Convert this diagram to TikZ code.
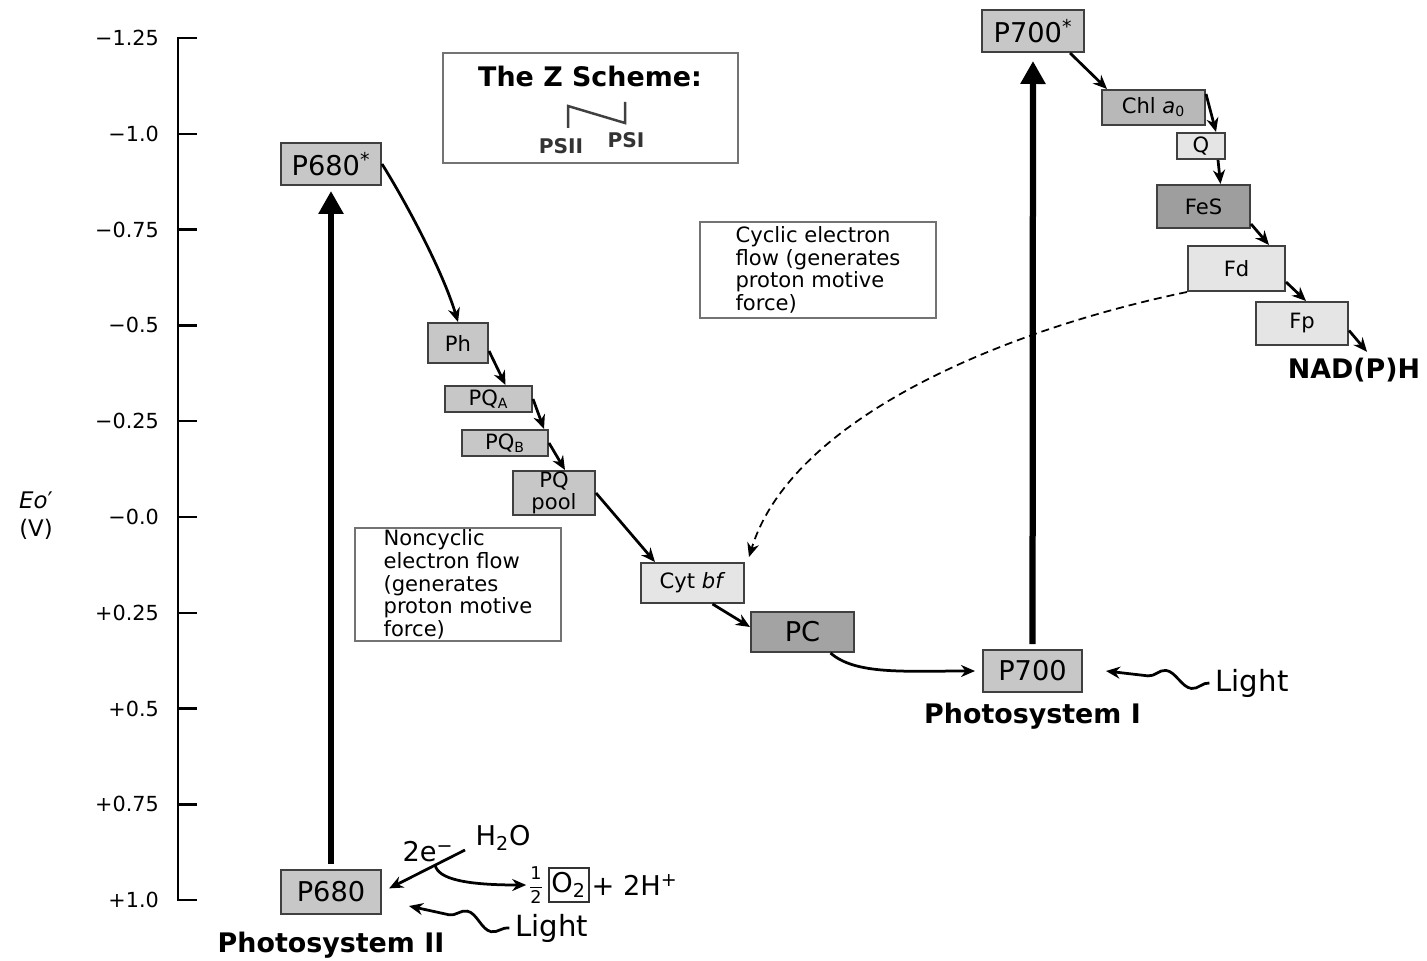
\documentclass[tikz,border=0pt]{standalone}
\usepackage{amsmath}
\usepackage{fontspec}
\setmainfont{DejaVu Sans}
\usetikzlibrary{arrows.meta, positioning, calc, decorations.pathmorphing}

\newcommand{\szaxis}{\fontsize{11.8}{13}\selectfont}
\newcommand{\szbig}{\fontsize{15.5}{18}\selectfont}
\newcommand{\szsmall}{\fontsize{12}{13.6}\selectfont}
\newcommand{\sznote}{\fontsize{12}{12.9}\selectfont}
\newcommand{\szlabel}{\fontsize{15.3}{18}\selectfont}
\newcommand{\szlight}{\fontsize{16.6}{19}\selectfont}

\begin{document}
\begin{tikzpicture}[
        x=0.2mm, y=-0.2mm,
        carrier/.style={draw=black!75, line width=0.4mm, fill=black!22,
            inner sep=0pt, align=center, font=\szsmall},
        bigcarrier/.style={carrier, font=\szbig},
        note/.style={draw=black!55, line width=0.45mm, inner sep=0pt,
            align=left, font=\sznote},
        line/.style={draw, line width=0.55mm,
            -{Stealth[length=2.8mm, width=2.4mm]}},
        excite/.style={draw, line width=1.25mm,
            -{Triangle[length=4.6mm, width=4.8mm]}},
        wave/.style={line, decorate, decoration={snake, amplitude=1.5mm,
            segment length=11mm, post length=4.5mm}},
        psname/.style={font=\szlabel\bfseries},
    ]

    \useasboundingbox (0,0) rectangle (1427,960);

    % 1. Redox potential axis
    \draw[line width=0.45mm] (197,38) -- (178,38) -- (178,900) -- (197,900);
    \foreach \val [count=\i from 0] in {−1.25,−1.0,−0.75,−0.5,−0.25,−0.0,+0.25,+0.5,+0.75,+1.0}
        {
        \draw[line width=0.45mm] (178,38+95.8*\i) -- ++(19,0);
        \node[anchor=east, font=\szaxis] at (165,38+95.8*\i) {\val};
        }
    \node[font=\fontsize{13}{16}\selectfont, align=center] (eo) at (36,516)
        {\textit{Eo}′\\(V)};

    % 2. Photosystem II chain
    \node[bigcarrier, minimum width=20mm, minimum height=8.8mm] (p680)
        at (331,892) {P680};
    \node[bigcarrier, minimum width=20mm, minimum height=8.4mm] (p680s)
        at (331,164) {P680\textsuperscript{*}};
    \node[carrier, minimum width=12mm, minimum height=8mm] (ph)
        at (458,343) {Ph};
    \node[carrier, minimum width=17.4mm, minimum height=5.2mm] (pqa)
        at (488.5,399) {PQ\textsubscript{A}};
    \node[carrier, minimum width=17.2mm, minimum height=5.2mm] (pqb)
        at (505,443) {PQ\textsubscript{B}};
    \node[carrier, minimum width=16.4mm, minimum height=8.8mm,
          font=\fontsize{12}{12.5}\selectfont] (pqpool)
        at (554,493) {PQ\\pool};
    \node[carrier, fill=black!10, minimum width=20.6mm, minimum height=8mm] (cytbf)
        at (692.5,583) {Cyt \textit{bf}};
    \node[bigcarrier, fill=black!36, minimum width=20.6mm, minimum height=8mm] (pc)
        at (802.5,632) {PC};
    \node[psname, below=2.2mm of p680] (psII) {Photosystem II};

    % 3. Photosystem I chain
    \node[bigcarrier, minimum width=19.8mm, minimum height=8.4mm] (p700)
        at (1032.5,671) {P700};
    \node[bigcarrier, minimum width=20.4mm, minimum height=8.4mm] (p700s)
        at (1033,31) {P700\textsuperscript{*}};
    \node[carrier, fill=black!28, minimum width=20.6mm, minimum height=7mm] (chla)
        at (1153.5,107.5) {Chl \textit{a}\textsubscript{0}};
    \node[carrier, fill=black!10, minimum width=9.6mm, minimum height=5.2mm] (q)
        at (1201,146) {Q};
    \node[carrier, fill=black!38, minimum width=18.6mm, minimum height=8.6mm] (fes)
        at (1203.5,206.5) {FeS};
    \node[carrier, fill=black!10, minimum width=19.4mm, minimum height=9mm] (fd)
        at (1236.5,268.5) {Fd};
    \node[carrier, fill=black!10, minimum width=18.4mm, minimum height=8.6mm] (fp)
        at (1302,323.5) {Fp};
    \node[psname] (nadph) at (1354,370) {NAD(P)H};
    \node[psname, below=0.8mm of p700] (psI) {Photosystem I};

    % 4. Notes
    \node[note, minimum width=59mm, minimum height=22mm] (zbox) at (590.5,108) {};
    \node[psname] (ztitle) at (590,76) {The Z Scheme:};
    \draw[line width=0.5mm, black!75] (568,128) -- (568,106) -- (625,123) -- (625,102);
    \node[font=\fontsize{11.5}{13}\selectfont\bfseries, text=black!80] (psii)
        at (561,146) {PSII};
    \node[font=\fontsize{11.5}{13}\selectfont\bfseries, text=black!80] (psi)
        at (626,140) {PSI};
    \node[note, minimum width=47.2mm, minimum height=19.2mm] (cyclic) at (818,270)
        {Cyclic electron\\flow (generates\\proton motive\\force)};
    \node[note, minimum width=41.2mm, minimum height=22.6mm] (noncyclic) at (458,584.5)
        {Noncyclic\\electron flow\\(generates\\proton motive\\force)};

    % 5. Water splitting and light
    \node[font=\szbig] (twoe) at (428,852) {2e\textsuperscript{−}};
    \node[font=\szbig] (water) at (503,838) {H\textsubscript{2}O};
    \coordinate (source) at (465,850);
    \node[font=\fontsize{10}{12}\selectfont, inner sep=1pt] (half) at (536,885)
        {$\dfrac{\text{1}}{\text{2}}$};
    \node[draw=black!80, line width=0.4mm, font=\szbig, inner sep=1.5pt,
          minimum height=6.8mm, right=0.4mm of half] (otwo) {O\textsubscript{2}};
    \node[font=\szbig, inner sep=1pt, right=0pt of otwo] (hplus) {+ 2H\textsuperscript{+}};
    \node[font=\szlight] (lightII) at (552,928) {Light};
    \node[font=\szlight] (lightI) at (1252,683) {Light};

    % --- Arrows ---
    \path[excite, shorten <=1mm, shorten >=1mm] (p680) -- (p680s);
    \path[excite, shorten <=1mm, shorten >=1.6mm] (p700) -- (p700s);
    \path[line] (p680s.east) .. controls +(25,40) and +(-15,-50) .. (ph.north);
    \path[line] ([yshift=-1.6mm]ph.east) -- ([xshift=3.4mm]pqa.north);
    \path[line] (pqa.east) -- ([xshift=-1mm]pqb.north east);
    \path[line] (pqb.east) -- ([xshift=2.2mm]pqpool.north);
    \path[line] (pqpool.east) -- ([xshift=3mm]cytbf.north west);
    \path[line] ([xshift=4mm]cytbf.south) -- ([yshift=1mm]pc.west);
    \path[line] ([xshift=5.6mm]pc.south) .. controls +(25,22) and +(-70,0)
        .. ([xshift=-1.4mm]p700.west);
    \path[line] ([xshift=-3mm]p700s.south east) -- ([xshift=1.2mm]chla.north west);
    \path[line] ([yshift=-1mm]chla.north east) -- ([xshift=-2mm]q.north east);
    \path[line] ([xshift=3.4mm]q.south) -- ([xshift=3.4mm]fes.north);
    \path[line] ([yshift=1mm]fes.south east) -- ([xshift=-3.4mm]fd.north east);
    \path[line] ([yshift=2mm]fd.south east) -- ([xshift=0.8mm]fp.north);
    \path[line] ([yshift=-1.4mm]fp.east) -- ([xshift=2.6mm]nadph.north);
    \path[line, line width=0.35mm, dash pattern=on 1.6mm off 1mm]
        (fd.south west) .. controls +(-188,39) and +(42,-137)
        .. ([xshift=0.8mm, yshift=1mm]cytbf.north east);
    \path[line, shorten >=1.6mm] (source) -- (p680.east);
    \path[line] ($(source)!0.36!(p680.east)$) .. controls +(3,14) and +(-60,0) .. (half.west);
    \path[wave] (lightII.west) -- ([xshift=5.4mm, yshift=-2.8mm]p680.east);
    \path[wave] (lightI.west) -- ([xshift=4.6mm]p700.east);

\end{tikzpicture}
\end{document}
